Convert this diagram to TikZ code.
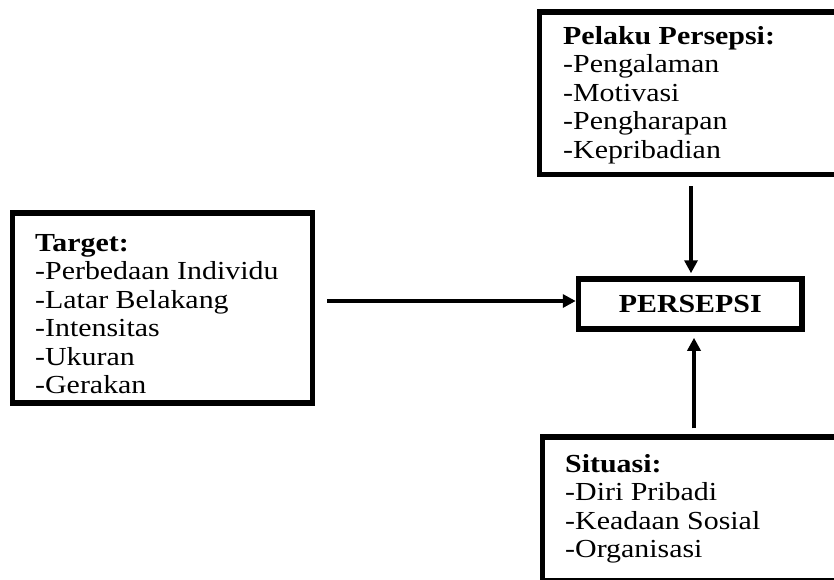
\documentclass[tikz,border=0pt]{standalone}
\usepackage{fontspec}
\setmainfont{Liberation Serif}[FakeStretch=1.15]
\usetikzlibrary{arrows.meta}
\begin{document}
\begin{tikzpicture}[x=1pt,y=-1pt,
  box/.style={draw, line width=5.5pt, rectangle, inner sep=0pt},
  txt/.style={anchor=north west, inner sep=0pt, align=left, font=\fontsize{26}{28.5}\selectfont},
  arr/.style={line width=3.5pt, -{Triangle[width=13pt,length=13pt]}}]
\useasboundingbox (0,0) rectangle (834,579);
\fill[white] (0,0) rectangle (834,579);
% boxes
\node[box, minimum width=305.5pt, minimum height=162.5pt] (pelaku) at (692.25,93.25) {};
\node[box, minimum width=300pt, minimum height=190pt] (target) at (162.5,308) {};
\node[box, minimum width=223.5pt, minimum height=50pt, font=\fontsize{26}{28.5}\selectfont\bfseries] (persepsi) at (690.25,304) {PERSEPSI};
\node[box, minimum width=302.5pt, minimum height=143.5pt] (situasi) at (693.75,508.75) {};
% texts
\node[txt] (tpelaku) at (563,25.8) {\textbf{Pelaku Persepsi:}\\-Pengalaman\\-Motivasi\\-Pengharapan\\-Kepribadian};
\node[txt] (ttarget) at (35,233.8) {\textbf{Target:}\\-Perbedaan Individu\\-Latar Belakang\\-Intensitas\\-Ukuran\\-Gerakan};
\node[txt] (tsituasi) at (565,453.8) {\textbf{Situasi:}\\-Diri Pribadi\\-Keadaan Sosial\\-Organisasi};
% connectors
\draw[arr, shorten <=12pt] ([yshift=3pt]target.east |- persepsi.west) -- ([yshift=3pt]persepsi.west);
\draw[arr, shorten <=9pt, shorten >=3pt] ([xshift=0.75pt]persepsi.north |- pelaku.south) -- ([xshift=0.75pt]persepsi.north);
\draw[arr, shorten <=6pt, shorten >=6pt] ([xshift=3.75pt]persepsi.south |- situasi.north) -- ([xshift=3.75pt]persepsi.south);
\end{tikzpicture}
\end{document}
